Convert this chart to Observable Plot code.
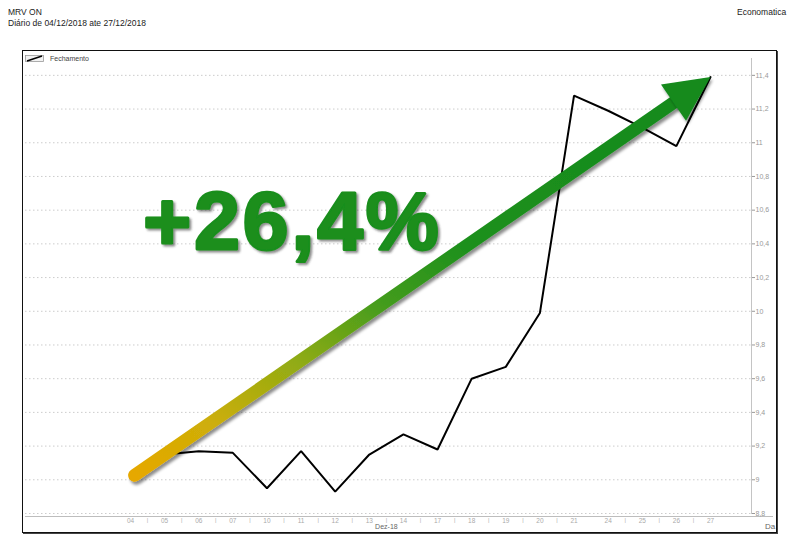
<!DOCTYPE html>
<html><head><meta charset="utf-8">
<script src="https://cdn.jsdelivr.net/npm/d3@7"></script>
<script src="https://cdn.jsdelivr.net/npm/@observablehq/plot@0.6"></script>
<style>
html,body{margin:0;padding:0;background:#fff;}
#wrap{position:relative;width:800px;height:542px;overflow:hidden;font-family:"Liberation Sans",Arial,sans-serif;}
#chart{position:absolute;left:0;top:0;}
.t{position:absolute;white-space:nowrap;line-height:1;}
</style></head><body>
<div id="wrap">
  <div id="chart"></div>
  <div style="position:absolute;left:22px;top:50px;width:753px;height:481px;border:1.5px solid #111;box-shadow:1px 1px 0 #444;"></div>
  <div class="t" style="left:8px;top:8px;font-size:8.5px;color:#222;">MRV ON</div>
  <div class="t" style="left:8px;top:19px;font-size:8.5px;color:#222;">Diário de 04/12/2018 ate 27/12/2018</div>
  <div class="t" style="left:737px;top:8px;font-size:8.5px;color:#222;">Economatica</div>
  <svg style="position:absolute;left:25px;top:54px" width="20" height="9"><rect x="0.5" y="1.5" width="18" height="6" fill="#f2f2f2" stroke="#999" stroke-width="0.8"/><line x1="2" y1="7" x2="17" y2="2" stroke="#000" stroke-width="1.6"/></svg>
  <div class="t" style="left:50px;top:55px;font-size:7px;color:#444;">Fechamento</div>
  <div class="t" style="left:765px;top:523px;font-size:8px;color:#666;">Da</div>
</div>
<script>
// ---- data ----
const days = ["04","05","06","07","10","11","12","13","14","17","18","19","20","21","24","25","26","27"];
const close = [9.01, 9.15, 9.17, 9.16, 8.95, 9.17, 8.93, 9.15, 9.27, 9.18, 9.60, 9.67, 9.99, 11.28, 11.19, 11.09, 10.98, 11.39];
const yTicks = [8.8, 9, 9.2, 9.4, 9.6, 9.8, 10, 10.2, 10.4, 10.6, 10.8, 11, 11.2, 11.4];
const yTickLabels = ["8,8","9","9,2","9,4","9,6","9,8","10","10,2","10,4","10,6","10,8","11","11,2","11,4"];
const minorTicks = [0.5, 1.5, 2.5, 3.5, 4.5, 5.5, 6.5, 7.5, 8.5, 9.5, 10.5, 11.5, 12.5, 14.5, 15.5, 16.5];
const monthLabel = [{x: 7.5, label: "Dez-18"}];
const gain = [{x: 4.75, y: 10.525, label: "+26,4%"}];

const rows = days.map((d, i) => ({i, day: d, close: close[i]}));
const first = rows[0], last = rows[rows.length - 1];
const yLabelMap = new Map(yTicks.map((t, k) => [t, yTickLabels[k]]));
const headShape = {draw(ctx, l, r) { ctx.moveTo(0, -l); ctx.lineTo(-r, 0); ctx.lineTo(r, 0); ctx.closePath(); }};
const FONT = "Liberation Sans, Arial, sans-serif";

function build(angle) {
  return Plot.plot({
    width: 800, height: 542,
    marginLeft: 25, marginRight: 49, marginTop: 58, marginBottom: 29,
    style: {fontFamily: FONT, background: "transparent", overflow: "visible"},
    x: {type: "linear", domain: [0, days.length - 1], insetLeft: 105, insetRight: 41},
    y: {domain: [8.8, 11.5]},
    marks: [
      Plot.ruleY(yTicks, {stroke: "#cccccc", strokeDasharray: "1.5,2.5", strokeWidth: 1}),
      Plot.ruleY([8.8], {dy: 3, stroke: "#bdbdbd", insetRight: -22}),
      Plot.frame({anchor: "right", stroke: "#c4c4c4"}),
      Plot.axisY({anchor: "right", ticks: yTicks, tickFormat: d => yLabelMap.get(d), tickSize: 3, tickPadding: 1, fontSize: 7, color: "#999", label: null}),
      Plot.axisX({ticks: d3.range(days.length), tickFormat: i => days[i], tickSize: 0, tickPadding: 5, fontSize: 6.5, color: "#aaa", label: null}),
      Plot.text(minorTicks, {x: d => d, frameAnchor: "bottom", dy: 8, text: () => "|", fontSize: 5.5, fill: "#aaa"}),
      Plot.text(monthLabel, {x: "x", frameAnchor: "bottom", dy: 15, text: "label", fontSize: 7, fill: "#666"}),
      Plot.line(rows, {x: "i", y: "close", stroke: "#000", strokeWidth: 2, strokeLinejoin: "miter"}),
      Plot.arrow([{}], {x1: () => first.i, y1: () => first.close, x2: () => last.i, y2: () => last.close,
        headLength: 0, insetStart: 5, insetEnd: 32, stroke: "url(#arrowGrad)", strokeWidth: 13, strokeLinecap: "round", ariaDescription: "shaft"}),
      Plot.vector([last], {x: "i", y: "close", rotate: angle, length: 45, r: 22, anchor: "end", shape: headShape,
        fill: "#138a1e", stroke: "none", ariaDescription: "head"}),
      Plot.text(gain, {x: "x", y: "y", text: "label", fontSize: 82, fontWeight: "bold", fontFamily: FONT,
        fill: "#1a8e1c", stroke: "#1a8e1c", strokeWidth: 3, textAnchor: "middle", lineAnchor: "middle", ariaDescription: "gain"})
    ]
  });
}

// first pass: read scales to orient the arrow head along the shaft
const probe = build(0);
const sx = probe.scale("x"), sy = probe.scale("y");
const px1 = sx.apply(first.i), py1 = sy.apply(first.close), px2 = sx.apply(last.i), py2 = sy.apply(last.close);
const angle = Math.atan2(px2 - px1, -(py2 - py1)) * 180 / Math.PI;

const chart = build(angle);
const svg = d3.select(chart);
svg.insert("defs", ":first-child").html(`
  <linearGradient id="arrowGrad" x1="0" y1="1" x2="1" y2="0">
    <stop offset="0" stop-color="#e6a800"/>
    <stop offset="0.14" stop-color="#cdae08"/>
    <stop offset="0.3" stop-color="#8fab14"/>
    <stop offset="0.45" stop-color="#449c1c"/>
    <stop offset="0.6" stop-color="#1e901d"/>
    <stop offset="1" stop-color="#148a1e"/>
  </linearGradient>
  <filter id="shadow" x="-10%" y="-10%" width="130%" height="130%">
    <feDropShadow dx="2" dy="3" stdDeviation="1.6" flood-color="#000" flood-opacity="0.45"/>
  </filter>
  <filter id="tshadow" x="-10%" y="-10%" width="130%" height="130%">
    <feDropShadow dx="2" dy="2" stdDeviation="1.2" flood-color="#333" flood-opacity="0.55"/>
  </filter>`);
svg.selectAll('g[aria-description="shaft"], g[aria-description="head"]').attr("filter", "url(#shadow)");
svg.selectAll('g[aria-description="gain"]').attr("filter", "url(#tshadow)").selectAll("text").style("letter-spacing", "3px").attr("paint-order", "stroke");
document.getElementById("chart").appendChild(chart);
</script>
</body></html>
